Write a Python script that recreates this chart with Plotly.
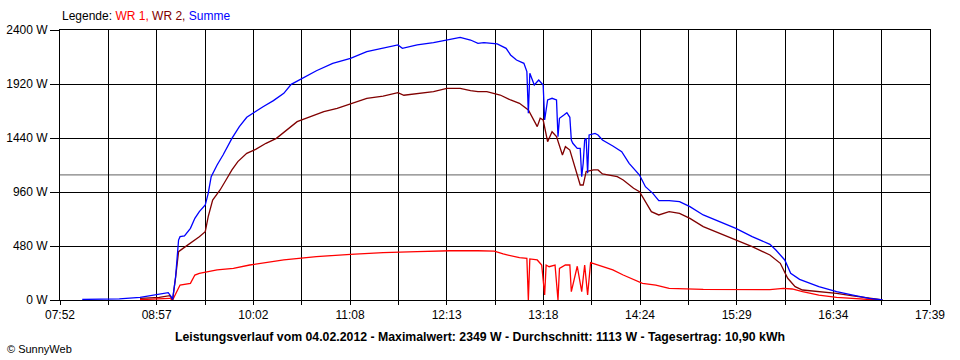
import plotly.graph_objects as go

# ---------------- data ----------------
summe_time = ["08:07", "08:32", "08:46", "08:55", "09:05", "09:07", "09:08", "09:10", "09:12", "09:13",
              "09:16", "09:20", "09:23", "09:26", "09:30", "09:32", "09:34", "09:38", "09:42", "09:48",
              "09:53", "09:58", "10:02", "10:09", "10:16", "10:23", "10:28", "10:36", "10:45", "10:56",
              "11:08", "11:19", "11:30", "11:40", "11:43", "11:53", "12:04", "12:15", "12:22", "12:29",
              "12:34", "12:38", "12:47", "12:53", "12:56", "13:00", "13:05", "13:07", "13:08", "13:09",
              "13:12", "13:15", "13:17", "13:18", "13:19", "13:20", "13:21", "13:24", "13:27", "13:28",
              "13:29", "13:32", "13:34", "13:36", "13:37", "13:38", "13:41", "13:43", "13:44", "13:45",
              "13:46", "13:47", "13:48", "13:49", "13:53", "13:55", "13:58", "14:05", "14:11", "14:16",
              "14:23", "14:27", "14:32", "14:36", "14:43", "14:50", "14:57", "15:06", "15:17", "15:28",
              "15:39", "15:51", "15:55", "16:01", "16:05", "16:11", "16:24", "16:36", "16:47", "16:58",
              "17:07"]
summe_w = [5, 10, 24, 44, 65, 30, 5, 207, 533, 563,
           569, 637, 726, 785, 844, 948, 1096, 1200, 1289, 1437,
           1541, 1624, 1659, 1718, 1772, 1837, 1917, 1976, 2038, 2104,
           2148, 2207, 2237, 2267, 2237, 2267, 2287, 2317, 2335, 2311,
           2281, 2287, 2276, 2237, 2178, 2133, 2104, 2030, 1660, 2015,
           1911, 1956, 1926, 1911, 1600, 1689, 1778, 1793, 1778, 1452,
           1615, 1644, 1665, 1624, 1422, 1393, 1348, 1348, 1096, 1215,
           1422, 1437, 1126, 1467, 1481, 1467, 1422, 1369, 1319, 1215,
           1111, 1007, 948, 883, 883, 874, 830, 756, 696, 637,
           563, 495, 444, 356, 237, 184, 119, 74, 44, 15,
           0]

wr2_time = ["08:46", "08:59", "09:06", "09:08", "09:10", "09:12", "09:15", "09:20", "09:26", "09:30",
            "09:32", "09:35", "09:40", "09:44", "09:48", "09:52", "09:58", "10:04", "10:11", "10:18",
            "10:25", "10:32", "10:41", "10:50", "10:59", "11:08", "11:19", "11:30", "11:40", "11:44",
            "11:53", "12:04", "12:13", "12:22", "12:29", "12:34", "12:40", "12:49", "12:56", "13:02",
            "13:08", "13:10", "13:14", "13:16", "13:18", "13:21", "13:24", "13:27", "13:31", "13:33",
            "13:36", "13:40", "13:43", "13:45", "13:47", "13:52", "13:55", "13:58", "14:08", "14:12",
            "14:19", "14:23", "14:27", "14:31", "14:36", "14:43", "14:50", "14:57", "15:06", "15:17",
            "15:28", "15:39", "15:51", "15:58", "16:03", "16:08", "16:13", "16:24", "16:36", "16:47",
            "16:58", "17:07"]
wr2_w = [15, 24, 38, 3, 200, 430, 459, 504, 563, 607,
         741, 889, 978, 1067, 1156, 1230, 1304, 1339, 1393, 1437,
         1511, 1585, 1630, 1674, 1704, 1742, 1793, 1813, 1843, 1820,
         1837, 1852, 1882, 1882, 1861, 1852, 1852, 1822, 1778, 1748,
         1689, 1644, 1541, 1615, 1600, 1407, 1496, 1452, 1289, 1363,
         1333, 1156, 1022, 1022, 1141, 1156, 1156, 1120, 1096, 1067,
         993, 963, 874, 785, 756, 785, 770, 726, 652, 593,
         539, 474, 400, 326, 193, 119, 89, 74, 59, 36,
         15, 0]

wr1_time = ["08:46", "08:59", "09:06", "09:08", "09:10", "09:13", "09:20", "09:23", "09:26", "09:38",
            "09:49", "10:00", "10:23", "10:45", "11:08", "11:30", "11:53", "12:15", "12:34", "12:45",
            "12:51", "13:02", "13:07", "13:08", "13:09", "13:14", "13:17", "13:19", "13:20", "13:22",
            "13:26", "13:28", "13:29", "13:33", "13:36", "13:37", "13:41", "13:44", "13:46", "13:48",
            "13:50", "13:58", "14:05", "14:12", "14:19", "14:25", "14:34", "14:43", "15:06", "15:28",
            "15:46", "15:51", "16:00", "16:06", "16:13", "16:24", "16:36", "16:47", "16:58", "17:03"]
wr1_w = [3, 12, 15, 0, 50, 133, 148, 222, 237, 267,
         281, 311, 356, 385, 406, 421, 430, 438, 438, 435,
         409, 376, 370, 0, 365, 356, 311, 44, 311, 296,
         311, 0, 281, 311, 311, 74, 300, 74, 311, 44,
         332, 296, 267, 222, 184, 148, 133, 104, 95, 95,
         89, 92, 104, 98, 74, 44, 24, 15, 6, 0]

average_w = 1113
x_start, x_end = "07:52", "17:39"
x_labels = ["07:52", "08:57", "10:02", "11:08", "12:13", "13:18", "14:24", "15:29", "16:34", "17:39"]
y_ticks = [0, 480, 960, 1440, 1920, 2400]
title_text = ("Leistungsverlauf vom 04.02.2012 - Maximalwert: 2349 W - "
              "Durchschnitt: 1113 W - Tagesertrag: 10,90 kWh")


def to_min(s):
    h, m = s.split(":")
    return int(h) * 60 + int(m)


x0, x1 = to_min(x_start), to_min(x_end)
n_grid = 2 * (len(x_labels) - 1)
grid_vals = [x0 + (x1 - x0) * k / n_grid for k in range(n_grid + 1)]
grid_text = [x_labels[k // 2] if k % 2 == 0 else "" for k in range(n_grid + 1)]

FONT = "Liberation Sans"
fig = go.Figure()
fig.add_trace(go.Scatter(x=[to_min(t) for t in wr1_time], y=wr1_w, mode="lines",
                         line=dict(color="#ff0000", width=1.3), name="WR 1"))
fig.add_trace(go.Scatter(x=[to_min(t) for t in wr2_time], y=wr2_w, mode="lines",
                         line=dict(color="#800000", width=1.3), name="WR 2"))
fig.add_trace(go.Scatter(x=[to_min(t) for t in summe_time], y=summe_w, mode="lines",
                         line=dict(color="#0000ff", width=1.3), name="Summe"))

fig.add_shape(type="line", xref="x", yref="y", x0=x0, x1=x1, y0=average_w, y1=average_w,
              line=dict(color="#808080", width=1.2), layer="below")

fig.update_layout(
    width=960, height=360,
    margin=dict(l=60, r=30, t=30, b=60, autoexpand=False),
    paper_bgcolor="white", plot_bgcolor="white",
    showlegend=False,
    font=dict(family=FONT, size=11, color="black"),
    xaxis=dict(range=[x0, x1], tickmode="array", tickvals=grid_vals, ticktext=grid_text,
               showgrid=True, gridcolor="black", gridwidth=1, zeroline=False,
               showline=True, linecolor="black", linewidth=1, mirror=True, automargin=False,
               ticks="outside", ticklen=4, tickcolor="black", tickfont=dict(size=12)),
    yaxis=dict(range=[0, 2400], tickmode="array", tickvals=y_ticks,
               ticktext=[f"{v} W" for v in y_ticks],
               showgrid=True, gridcolor="black", gridwidth=1, zeroline=False,
               showline=True, linecolor="black", linewidth=1, mirror=True, automargin=False,
               ticks="outside", ticklen=9, tickcolor="black", tickfont=dict(size=12)),
    annotations=[
        dict(xref="paper", yref="paper", x=0, y=1 + 14 / 270, xanchor="left", yanchor="middle",
             showarrow=False, font=dict(size=12),
             text='Legende: <span style="color:#ff0000">WR 1, </span>'
                  '<span style="color:#800000">WR 2, </span>'
                  '<span style="color:#0000ff">Summe</span>'),
        dict(xref="paper", yref="paper", x=(480 - 60) / 870, y=-37 / 270, xanchor="center",
             yanchor="middle", showarrow=False, font=dict(size=12.3),
             text="<b>" + title_text + "</b>"),
        dict(xref="paper", yref="paper", x=(5 - 60) / 870, y=-49 / 270, xanchor="left",
             yanchor="middle", showarrow=False, font=dict(size=11), text="© SunnyWeb"),
    ],
)

fig.write_html("out.html", config={"displayModeBar": False},
               post_script="document.body.style.margin='0';document.body.style.overflow='hidden';")
